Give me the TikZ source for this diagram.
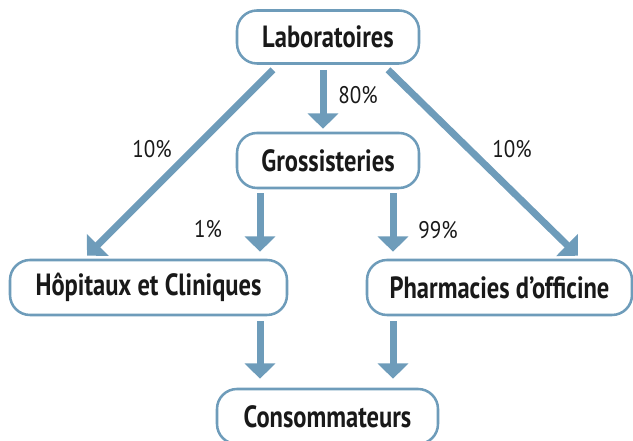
\documentclass[tikz,border=0pt]{standalone}
\usepackage{fontspec}
\setmainfont{PT Sans}[FakeStretch=0.8]
\newfontfamily\pctfont{PT Sans}[FakeStretch=0.88]
\usetikzlibrary{arrows.meta,calc}
\definecolor{steel}{RGB}{110,156,186}
\definecolor{ink}{RGB}{25,25,25}
\tikzset{
  box/.style={draw=steel, line width=1.9pt, rounded corners=15pt, fill=white,
    inner sep=0pt, text=ink, font=\fontsize{23}{27}\selectfont\bfseries},
  arr/.style={draw=steel, line width=5.25pt, -{Triangle[width=22.5pt,length=11.5pt]}},
  pct/.style={text=ink, font=\pctfont\fontsize{18}{21}\selectfont, inner sep=0pt}
}
\begin{document}
\begin{tikzpicture}[x=0.75pt,y=-0.75pt]
\useasboundingbox (0,0) rectangle (633,441);
\clip (0,0) rectangle (633,441);
\node[box, minimum width=182*0.75pt, minimum height=53*0.75pt] (lab) at (328,37) {Laboratoires};
\node[box, minimum width=182*0.75pt, minimum height=55*0.75pt] (gross) at (328,160.5) {Grossisteries};
\node[box, minimum width=277*0.75pt, minimum height=55*0.75pt] (hop) at (148.5,287.5) {Hôpitaux et Cliniques};
\node[box, minimum width=265*0.75pt, minimum height=55*0.75pt] (pharm) at (499.5,287.5) {Pharmacies d’officine};
\node[box, minimum width=221*0.75pt, minimum height=55*0.75pt] (cons) at (327.5,416.5) {Consommateurs};

\draw[arr] ($(lab.south)+(-5,5)$) -- ($(gross.north)+(-5,-3)$);
\draw[arr] ($(lab.south)+(-55,5)$) -- ($(hop.north)+(-61.5,-3)$);
\draw[arr] ($(lab.south)+(60,5)$) -- ($(pharm.north)+(78.5,-3)$);
\draw[arr] ($(gross.south)+(-68,4)$) -- ($(hop.north)+(111.5,-7)$);
\draw[arr] ($(gross.south)+(65,4)$) -- ($(pharm.north)+(-106.5,-7)$);
\draw[arr] ($(hop.south)+(111.5,5)$) -- ($(cons.north)+(-67.5,-9)$);
\draw[arr] ($(pharm.south)+(-106.5,5)$) -- ($(cons.north)+(65.5,-9)$);

\node[pct] (p80) at (358,95) {80\%};
\node[pct] (p10l) at (152,149) {10\%};
\node[pct] (p10r) at (512,149) {10\%};
\node[pct] (p1) at (208,229) {1\%};
\node[pct] (p99) at (438,230) {99\%};
\end{tikzpicture}
\end{document}
